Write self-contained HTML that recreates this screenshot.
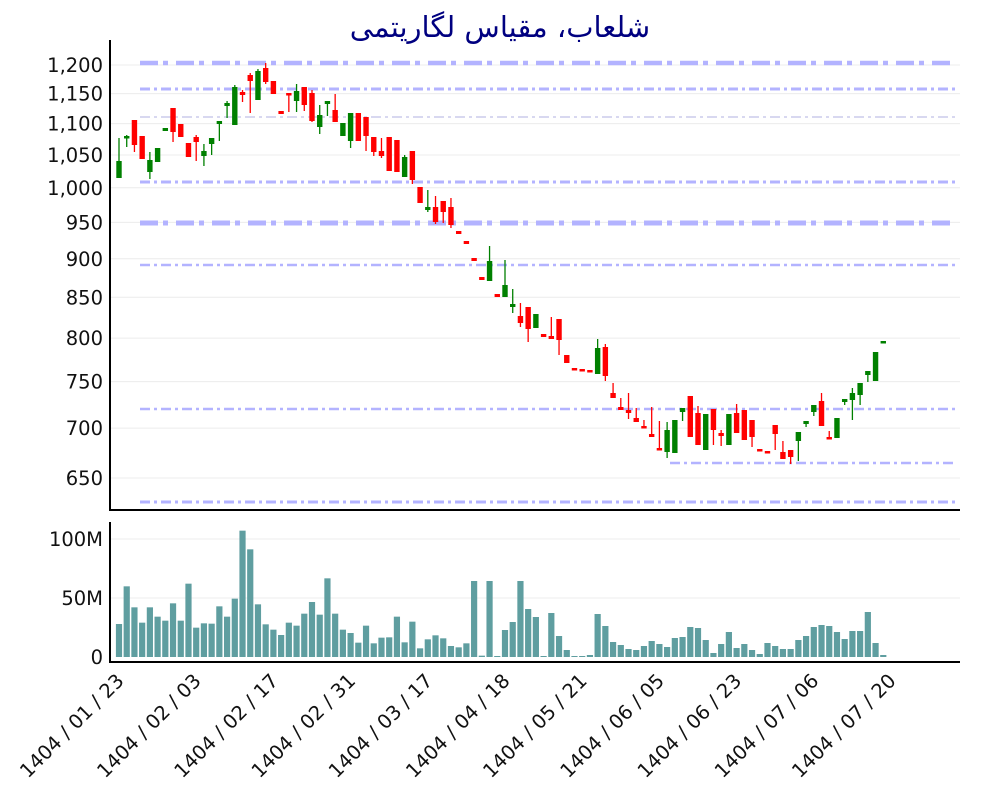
<!DOCTYPE html>
<html><head><meta charset="utf-8"><style>
body{margin:0;background:#fff;width:1000px;height:800px;overflow:hidden}
svg text{font-family:"DejaVu Sans","Liberation Sans",sans-serif}
</style></head><body>
<svg id="s" width="1000" height="800" xmlns="http://www.w3.org/2000/svg">
<rect width="1000" height="800" fill="#fff"/>
<text x="500" y="37" text-anchor="middle" font-size="29" fill="#000080" font-family="'DejaVu Sans','Noto Sans CJK SC',sans-serif">شلعاب، مقیاس لگاریتمی</text>
<g id="g"></g>
</svg>
<script>
const NS="http://www.w3.org/2000/svg";const g=document.getElementById('g');
function el(t,a,txt){const e=document.createElementNS(NS,t);for(const k in a)e.setAttribute(k,a[k]);if(txt!==undefined)e.textContent=txt;g.appendChild(e);return e;}
const yv=v=>65+(Math.log10(1200)-Math.log10(v))*1551;
const FS=19.5;
for(let v=650;v<=1200;v+=50){const y=yv(v);el('line',{x1:110,x2:960,y1:y,y2:y,stroke:'#ececec','stroke-width':1});
el('text',{x:103,y:y+7,'text-anchor':'end','font-size':FS,fill:'#111'},v.toLocaleString('en-US'));}
[[539,'100M'],[598,'50M'],[657,'0']].forEach(([y,t])=>{if(t!='0')el('line',{x1:110,x2:960,y1:y,y2:y,stroke:'#ececec'});el('text',{x:103,y:y+7,'text-anchor':'end','font-size':FS,fill:'#111'},t);});
[[63,4.5,140,'18 5 5 8'],[89,3,140,'10 4 3 4'],[117,1.3,140,'10 4 3 4'],[182,3,140,'10 4 3 4'],[223,5,140,'18 5 5 8'],[265,2.5,140,'10 4 3 4'],[409,2.5,140,'10 4 3 4'],[463,2.5,670,'10 4 3 4'],[502,3,140,'10 4 3 4']].forEach(([y,w,x1,d])=>{
el('line',{x1:x1,x2:955,y1:y,y2:y,stroke:y==117?'#c0c0e8':'#b3b3ff','stroke-width':w,'stroke-dasharray':d});});
const C=[[138,161,178,178,'g'],[135,136,138,147,'g'],[120,120,145,152,'r'],[136,136,159,159,'r'],[152,160,172,179,'g'],[148,148,162,162,'g'],[128,128,131,131,'g'],[108,108,132,142,'r'],[124,124,137,137,'r'],[143,143,157,157,'r'],[135,137,142,161,'r'],[144,151,156,166,'g'],[138,138,144,155,'g'],[121,121,124,141,'g'],[101,103,106,118,'g'],[85,87,125,125,'g'],[90,92,95,102,'r'],[73,75,81,113,'r'],[69,71,100,100,'g'],[63,68,82,84,'r'],[81,81,94,94,'r'],[111,111,114,114,'r'],[93,93,95,112,'r'],[84,91,101,112,'g'],[87,87,105,111,'r'],[90,93,121,122,'r'],[105,115,127,134,'g'],[101,101,104,116,'g'],[94,110,122,122,'r'],[123,123,136,136,'g'],[113,113,141,148,'g'],[113,113,141,141,'r'],[117,117,136,151,'r'],[137,137,152,156,'r'],[138,151,156,158,'r'],[137,137,171,171,'r'],[140,140,172,172,'r'],[155,157,177,177,'g'],[151,151,180,184,'r'],[187,187,203,203,'r'],[190,207,210,212,'g'],[196,207,222,224,'r'],[201,201,212,223,'r'],[198,207,225,228,'r'],[231,231,234,234,'r'],[241,241,244,244,'r'],[258,258,261,261,'r'],[277,277,280,280,'r'],[246,261,281,281,'g'],[294,294,297,297,'r'],[260,285,297,297,'g'],[289,304,307,313,'g'],[303,316,323,327,'r'],[307,307,329,342,'r'],[314,314,328,328,'g'],[334,334,337,337,'r'],[317,336,339,339,'r'],[319,319,340,355,'r'],[355,355,363,363,'r'],[368,368,370,370,'r'],[369,369,371,371,'r'],[370,370,372,372,'r'],[339,348,374,374,'g'],[344,347,376,381,'r'],[383,393,398,398,'r'],[398,407,410,410,'r'],[393,410,413,419,'r'],[408,418,422,422,'r'],[420,426,428,428,'r'],[407,434,437,437,'r'],[421,448,450,450,'r'],[422,430,452,458,'g'],[420,420,453,453,'g'],[408,408,412,421,'g'],[396,396,437,437,'r'],[406,413,445,445,'r'],[414,414,450,450,'g'],[409,409,430,445,'r'],[430,433,436,446,'r'],[414,414,445,445,'g'],[404,413,433,433,'r'],[410,410,440,440,'r'],[420,420,437,447,'r'],[449,449,451,451,'r'],[451,451,453,453,'r'],[425,425,434,450,'r'],[441,452,459,459,'r'],[450,450,457,464,'r'],[432,432,441,461,'g'],[421,421,424,427,'g'],[405,405,412,416,'g'],[393,401,426,426,'r'],[431,437,439,439,'r'],[418,418,438,438,'g'],[399,399,402,405,'g'],[388,393,400,420,'g'],[383,383,395,405,'g'],[371,371,375,382,'g'],[352,352,381,381,'g'],[341,341,343,343,'g']];
const X=i=>119+i*7.72;
C.forEach((c,i)=>{const col=c[4]=='g'?'#008000':'#ff0000';const x=X(i);
el('line',{x1:x,x2:x,y1:c[0],y2:c[3],stroke:col,'stroke-width':1.3});
el('rect',{x:x-2.7,y:c[1],width:5.4,height:Math.max(2.5,c[2]-c[1]),fill:col});});
const z4=[342,229,292,338,292,320,332,280,332,221,353,340,341,289,320,266,62,118,283,343,359,375,338,347,311,276,314,205,311,359,369,398,347,400,383,382,320,397,335,415,388,376,385,408,412,400,213,437,213];
const V=z4.map(z=>510+z/3);
V.push(656,630,622,581,609,617,656,613,636,650,656,656,655,614,626,642,645,649,650,646,641,644,647,638,637,627,628,640,653,644,632,648,644,650,654,643,646,649,649,640,636,627,625,626,632,639,631,631,612,643,655);
V.forEach((t,i)=>{el('rect',{x:X(i)-3.1,y:t,width:6.2,height:Math.max(0.8,657-t),fill:'#5f9ea0'});});
el('line',{x1:110,x2:110,y1:40,y2:511,stroke:'#000','stroke-width':2});
el('line',{x1:109,x2:960,y1:510,y2:510,stroke:'#000','stroke-width':2});
el('line',{x1:110,x2:110,y1:522,y2:663,stroke:'#000','stroke-width':2});
el('line',{x1:109,x2:960,y1:662,y2:662,stroke:'#000','stroke-width':2});
['1404 / 01 / 23','1404 / 02 / 03','1404 / 02 / 17','1404 / 02 / 31','1404 / 03 / 17','1404 / 04 / 18','1404 / 05 / 21','1404 / 06 / 05','1404 / 06 / 23','1404 / 07 / 06','1404 / 07 / 20'].forEach((t,k)=>{
const x=X(k*10)+6,y=682;el('text',{x:x,y:y,'text-anchor':'end','font-size':FS,fill:'#111',transform:`rotate(-45 ${x} ${y})`},t);});
</script>
</body></html>
